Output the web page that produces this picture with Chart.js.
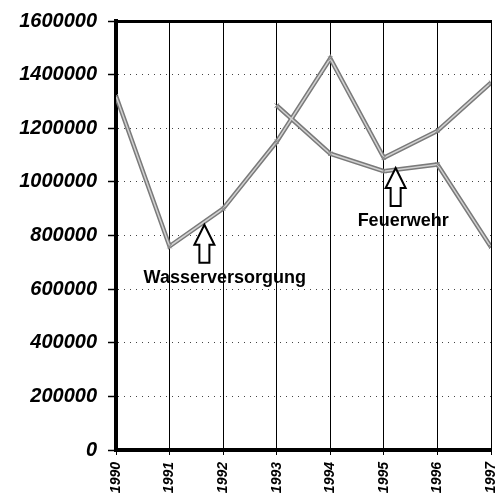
<!DOCTYPE html>
<html><head><meta charset="utf-8">
<script src="https://cdn.jsdelivr.net/npm/chart.js@4/dist/chart.umd.min.js"></script>
<style>html,body{margin:0;padding:0;background:#fff;overflow:hidden}</style>
</head><body>
<canvas id="c" width="496" height="499"></canvas>
<script>
// ---- data ----
const years = [1990, 1991, 1992, 1993, 1994, 1995, 1996, 1997];
const wasserversorgung = [1320000, 760000, 900000, 1150000, 1460000, 1090000, 1190000, 1370000];
const feuerwehr = [null, null, null, 1285000, 1105000, 1040000, 1065000, 757000];
const yMin = 0, yMax = 1600000, yStep = 200000;
const seriesNames = ['Wasserversorgung', 'Feuerwehr'];
// annotation anchors in data units (arrow tip, text centre/baseline)
const annotationTipX = [1991.65, 1995.22];
const annotationTipY = [840000, 1052000];
const annotationTextX = [1992.03, 1995.36];
const annotationTextY = [623000, 835000];

const FONT = '"Liberation Sans", Arial, Helvetica, sans-serif';
const toPoints = vals => years.map((yr, i) => ({x: yr, y: vals[i]})).filter(p => p.y !== null);

function lineSets(vals, name) {
  return [
    {label: name, data: toPoints(vals), borderColor: '#7a7a7a', borderWidth: 4.5,
     pointRadius: 0, tension: 0, order: 2, spanGaps: false},
    {label: name + ' inner', data: toPoints(vals), borderColor: '#d2d2d2', borderWidth: 1.5,
     pointRadius: 3, pointStyle: 'crossRot', pointBorderColor: '#8a8a8a', pointBorderWidth: 1,
     tension: 0, order: 1}
  ];
}

const arrowPlugin = {
  id: 'arrows',
  afterDatasetsDraw(chart) {
    const {ctx, scales: {x, y}} = chart;
    ctx.save();
    seriesNames.forEach((name, i) => {
      const tx = x.getPixelForValue(annotationTipX[i]);
      const ty = y.getPixelForValue(annotationTipY[i]);
      const hw = 10, hh = 20, sw = 5, len = 38;
      ctx.beginPath();
      ctx.moveTo(tx, ty);
      ctx.lineTo(tx + hw, ty + hh);
      ctx.lineTo(tx + sw, ty + hh);
      ctx.lineTo(tx + sw, ty + len);
      ctx.lineTo(tx - sw, ty + len);
      ctx.lineTo(tx - sw, ty + hh);
      ctx.lineTo(tx - hw, ty + hh);
      ctx.closePath();
      ctx.fillStyle = '#fff';
      ctx.fill();
      ctx.lineWidth = 2;
      ctx.lineJoin = 'miter';
      ctx.strokeStyle = '#000';
      ctx.stroke();
      ctx.font = 'bold 18px ' + FONT;
      ctx.fillStyle = '#000';
      ctx.textAlign = 'center';
      ctx.textBaseline = 'alphabetic';
      ctx.fillText(name, x.getPixelForValue(annotationTextX[i]), y.getPixelForValue(annotationTextY[i]));
    });
    ctx.restore();
  }
};

new Chart(document.getElementById('c'), {
  type: 'line',
  data: {
    datasets: [...lineSets(wasserversorgung, seriesNames[0]), ...lineSets(feuerwehr, seriesNames[1])]
  },
  options: {
    responsive: false,
    devicePixelRatio: 1,
    animation: false,
    layout: {padding: {top: 21, right: 1, left: 0, bottom: 0}},
    plugins: {legend: {display: false}, title: {display: false}, tooltip: {enabled: false}},
    scales: {
      x: {
        type: 'linear', min: years[0], max: years[years.length - 1],
        ticks: {stepSize: 1, autoSkip: false, minRotation: 90, maxRotation: 90, padding: 7,
          color: '#000', font: {family: FONT, size: 14, weight: 'bold', style: 'italic'},
          callback: v => String(v)},
        grid: {color: '#000', lineWidth: 1, tickLength: 5, tickColor: '#000', tickWidth: 1},
        border: {display: true, color: '#000', width: 4},
        afterFit: s => { s.height = 49; s.paddingLeft = 0; s.paddingRight = 0; }
      },
      xTop: {
        type: 'linear', position: 'top', min: years[0], max: years[years.length - 1],
        ticks: {display: false},
        grid: {display: false, drawTicks: false},
        border: {display: true, color: '#000', width: 3},
        afterFit: s => { s.height = 0; s.paddingLeft = 0; s.paddingRight = 0; }
      },
      y: {
        min: yMin, max: yMax,
        ticks: {stepSize: yStep, padding: 11, color: '#000',
          font: {family: FONT, size: 20, weight: 'bold', style: 'italic'},
          callback: v => String(v)},
        grid: {color: '#444', lineWidth: 1, tickLength: 8, tickColor: '#000', tickWidth: 1.5, tickBorderDash: []},
        border: {display: true, color: '#000', width: 4, dash: [1, 5]},
        afterFit: s => { s.width = 116; s.paddingTop = 0; s.paddingBottom = 0; }
      }
    }
  },
  plugins: [arrowPlugin]
});
</script>
</body></html>
